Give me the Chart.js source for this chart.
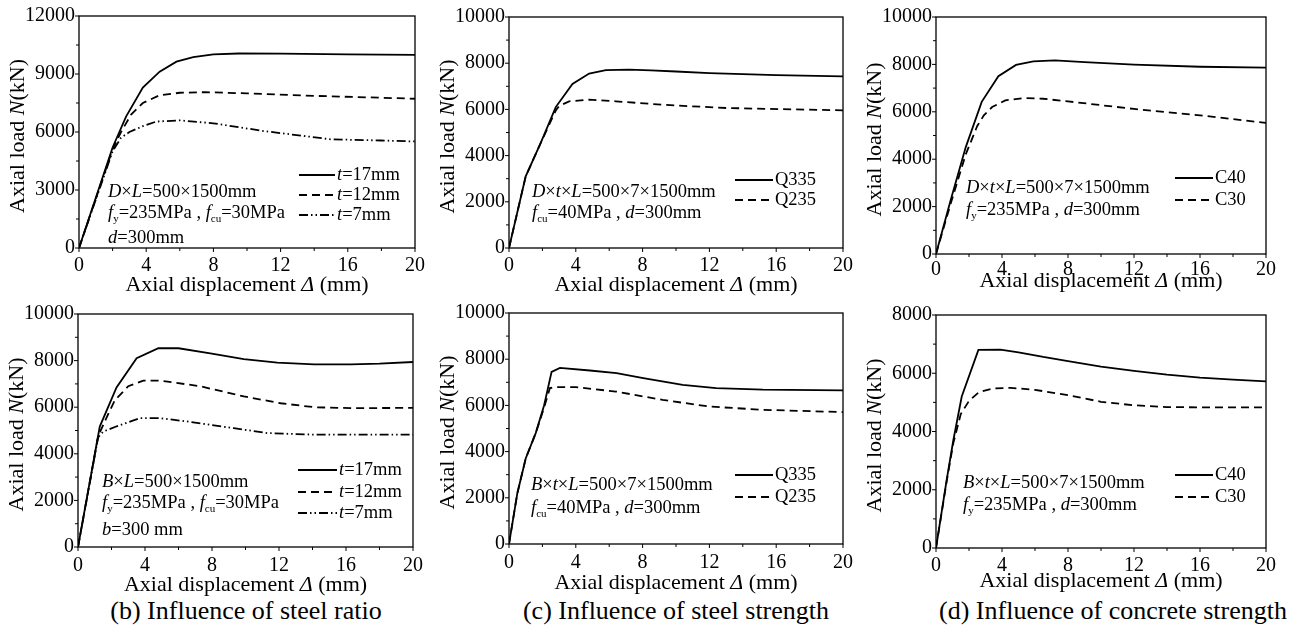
<!DOCTYPE html>
<html>
<head>
<meta charset="utf-8">
<script src="https://cdn.jsdelivr.net/npm/chart.js@4/dist/chart.umd.min.js"></script>
<style>
  body { margin: 0; background: #fff; width: 1294px; height: 630px; position: relative; overflow: hidden; }
  canvas { position: absolute; }
  .cap { position: absolute; font-family: "Liberation Serif", "Times New Roman", serif; font-size: 26px; color: #000; white-space: nowrap; transform: translate(-50%, -50%); }
</style>
</head>
<body>
<div class="cap" style="left:246px; top:611px;">(b) Influence of steel ratio</div>
<div class="cap" style="left:676px; top:611px;">(c) Influence of steel strength</div>
<div class="cap" style="left:1113px; top:611px;">(d) Influence of concrete strength</div>
<script>
// tick labels
const xTicks = [0, 4, 8, 12, 16, 20];
const yTicks12k = [0, 3000, 6000, 9000, 12000];
const yTicks10k = [0, 2000, 4000, 6000, 8000, 10000];
const yTicks8k = [0, 2000, 4000, 6000, 8000];

// top left: circular section, steel thickness
const topThickLabels = ['t=17mm', 't=12mm', 't=7mm'];
const topT17x = [0, 1, 2, 2.8, 3.8, 4.8, 5.8, 6.8, 8, 9.5, 12, 16, 20];
const topT17y = [0, 2600, 5200, 6800, 8300, 9120, 9640, 9870, 10010, 10060, 10050, 10020, 9990];
const topT12x = [0, 1, 2, 2.5, 3.1, 3.8, 4.8, 6, 7.5, 10, 14, 20];
const topT12y = [0, 2550, 5100, 6000, 6900, 7500, 7900, 8030, 8060, 8000, 7870, 7720];
const topT7x = [0, 1, 2, 2.5, 3, 3.8, 4.6, 6, 8, 11, 15, 18, 20];
const topT7y = [0, 2500, 5000, 5700, 6000, 6300, 6540, 6600, 6450, 6050, 5620, 5560, 5510];

// top middle: steel grade
const gradeLabels = ['Q335', 'Q235'];
const topQ335x = [0, 1, 1.9, 2.8, 3.8, 4.8, 5.8, 7.2, 8.5, 10, 12, 16, 20];
const topQ335y = [0, 3100, 4550, 6100, 7100, 7550, 7700, 7720, 7690, 7640, 7570, 7480, 7430];
const topQ235x = [0, 1, 1.9, 2.8, 3.0, 3.6, 4.8, 6.4, 9.2, 13, 20];
const topQ235y = [0, 3100, 4550, 5950, 6150, 6350, 6420, 6350, 6200, 6060, 5960];

// top right: concrete grade
const concLabels = ['C40', 'C30'];
const topC40x = [0, 0.9, 1.8, 2.77, 3.78, 4.85, 5.9, 7.2, 9, 12, 16, 20];
const topC40y = [0, 2300, 4500, 6420, 7500, 7980, 8130, 8170, 8100, 7990, 7900, 7860];
const topC30x = [0, 0.9, 1.8, 2.5, 2.9, 3.4, 4.2, 5.3, 6.5, 8, 12, 16, 20];
const topC30y = [0, 2150, 4200, 5400, 5850, 6200, 6480, 6580, 6550, 6440, 6120, 5850, 5530];

// bottom left: square section, steel thickness
const botT17x = [0, 1.3, 2.3, 3.5, 4.8, 6, 7.9, 9.9, 11.9, 14.1, 16.3, 18, 20];
const botT17y = [0, 5170, 6850, 8100, 8530, 8530, 8310, 8060, 7910, 7840, 7840, 7870, 7940];
const botT12x = [0, 1.2, 1.8, 2.2, 3, 3.9, 4.9, 7.3, 9.9, 12.1, 14.1, 16.3, 20];
const botT12y = [0, 4750, 5700, 6300, 6900, 7140, 7140, 6900, 6460, 6170, 6000, 5960, 5970];
const botT7x = [0, 1.2, 1.5, 2.2, 3.7, 4.9, 6.5, 9.3, 11.3, 14.1, 20];
const botT7y = [0, 4700, 4950, 5150, 5530, 5530, 5390, 5100, 4890, 4820, 4820];

// bottom middle: steel grade
const botQ335x = [0, 0.5, 1, 1.6, 2.1, 2.55, 3.05, 4.84, 6.44, 8.04, 10.4, 12.4, 15.2, 20];
const botQ335y = [0, 2200, 3700, 4800, 6000, 7450, 7620, 7510, 7400, 7180, 6890, 6750, 6680, 6650];
const botQ235x = [0, 0.5, 1, 1.6, 2.1, 2.45, 2.85, 4, 6.4, 9.2, 12, 15.2, 20];
const botQ235y = [0, 2200, 3700, 4800, 5900, 6750, 6790, 6790, 6600, 6240, 5950, 5810, 5710];

// bottom right: concrete grade
const botC40x = [0, 0.65, 1.05, 1.56, 2.57, 3.9, 5, 6.5, 8, 10, 12, 14, 16, 18, 20];
const botC40y = [0, 2350, 3700, 5200, 6800, 6810, 6720, 6560, 6420, 6230, 6080, 5950, 5850, 5780, 5720];
const botC30x = [0, 0.65, 1.05, 1.5, 2.0, 2.6, 3.5, 4.5, 6, 8, 10, 12, 14, 16, 20];
const botC30y = [0, 2300, 3600, 4600, 5050, 5350, 5480, 5500, 5430, 5250, 5020, 4900, 4840, 4830, 4830];

const FONT = '"Liberation Serif", "Times New Roman", serif';
const SOLID = [];
const DASH = [8, 5];
const DASHDOT = [9, 3, 1.5, 3, 1.5, 3];

function fontFor(style, size) {
    if (style === 'i') return 'italic ' + size + 'px ' + FONT;
    if (style === 's') return Math.round(size * 0.62) + 'px ' + FONT;
    return size + 'px ' + FONT;
}

// segs: [[text, style], ...]  style '' normal, 'i' italic, 's' subscript
function drawRich(ctx, segs, x, y, size, align) {
    let w = 0;
    segs.forEach(s => { ctx.font = fontFor(s[1], size); w += ctx.measureText(s[0]).width; });
    let cx = align === 'center' ? x - w / 2 : x;
    ctx.textAlign = 'left';
    ctx.textBaseline = 'middle';
    segs.forEach(s => {
        ctx.font = fontFor(s[1], size);
        ctx.fillText(s[0], cx, s[1] === 's' ? y + size * 0.32 : y);
        cx += ctx.measureText(s[0]).width;
    });
}

function legendSegs(label) {
    if (label.startsWith('t=')) return [['t', 'i'], [label.slice(1), '']];
    return [[label, '']];
}

function series(xs, ys, label, dash) {
    return {
        label: label,
        data: xs.map((x, i) => ({ x: x, y: ys[i] })),
        borderColor: '#000',
        borderWidth: 1.8,
        borderDash: dash,
        pointRadius: 0,
        tension: 0,
        fill: false
    };
}

const framePlugin = {
    id: 'frame',
    afterDraw(chart) {
        const o = chart.options.plugins.frame;
        const ctx = chart.ctx;
        const a = chart.chartArea;
        const xs = chart.scales.x, ys = chart.scales.y;
        ctx.save();
        ctx.strokeStyle = '#000';
        ctx.fillStyle = '#000';
        ctx.lineWidth = 1.3;
        ctx.setLineDash([]);
        ctx.strokeRect(a.left, a.top, a.right - a.left, a.bottom - a.top);

        // x ticks
        ctx.lineWidth = 1;
        for (let v = 0; v <= 20; v += 2) {
            const px = xs.getPixelForValue(v);
            const len = v % 4 === 0 ? 4 : 3;
            ctx.beginPath(); ctx.moveTo(px, a.bottom); ctx.lineTo(px, a.bottom + len); ctx.stroke();
        }
        // y ticks
        const yt = o.yTicks;
        for (let i = 0; i < yt.length; i++) {
            let py = ys.getPixelForValue(yt[i]);
            ctx.beginPath(); ctx.moveTo(a.left, py); ctx.lineTo(a.left - 4, py); ctx.stroke();
            if (i < yt.length - 1) {
                py = ys.getPixelForValue((yt[i] + yt[i + 1]) / 2);
                ctx.beginPath(); ctx.moveTo(a.left, py); ctx.lineTo(a.left - 3, py); ctx.stroke();
            }
        }
        // tick labels
        ctx.font = '20px ' + FONT;
        ctx.textBaseline = 'middle';
        ctx.textAlign = 'center';
        xTicks.forEach(v => ctx.fillText(String(v), xs.getPixelForValue(v), a.bottom + o.xLabelDy));
        ctx.textAlign = 'right';
        yt.forEach(v => ctx.fillText(String(v), a.left - 4, ys.getPixelForValue(v)));

        // axis titles
        drawRich(ctx, [['Axial displacement ', ''], ['\u0394', 'i'], [' (mm)', '']],
            (a.left + a.right) / 2, a.bottom + o.xTitleDy, 22, 'center');
        ctx.save();
        ctx.translate(a.left - 61, (a.top + a.bottom) / 2 + 4);
        ctx.rotate(-Math.PI / 2);
        drawRich(ctx, [['Axial load ', ''], ['N', 'i'], ['(kN)', '']], 0, 0, 22, 'center');
        ctx.restore();

        // parameter notes
        o.notes.forEach((segs, i) => drawRich(ctx, segs, a.left + o.noteDx, a.bottom + o.noteDy[i], 18.5, 'left'));

        // legend
        chart.data.datasets.forEach((ds, i) => {
            const ly = a.bottom + o.legDy[i];
            ctx.lineWidth = ds.borderWidth;
            ctx.setLineDash(ds.borderDash);
            ctx.beginPath();
            ctx.moveTo(a.left + o.legX0, ly);
            ctx.lineTo(a.left + o.legX1, ly);
            ctx.stroke();
            ctx.setLineDash([]);
            drawRich(ctx, legendSegs(ds.label), a.left + o.legX1 + 2, ly, 18.5, 'left');
        });
        ctx.restore();
    }
};

const fy = [['f', 'i'], ['y', 's']];
const fcu = [['f', 'i'], ['cu', 's']];

const panels = [
    { l: 79, t: 16, r: 415, b: 248, yMax: 12000, yStep: 1500, yTicks: yTicks12k,
      sets: [series(topT17x, topT17y, topThickLabels[0], SOLID), series(topT12x, topT12y, topThickLabels[1], DASH), series(topT7x, topT7y, topThickLabels[2], DASHDOT)],
      notes: [[['D', 'i'], ['\u00d7', ''], ['L', 'i'], ['=500\u00d71500mm', '']],
              [...fy, ['=235MPa , ', ''], ...fcu, ['=30MPa', '']],
              [['d', 'i'], ['=300mm', '']]],
      noteDx: 29, noteDy: [-56, -35, -10], legX0: 220, legX1: 256, legDy: [-73, -53, -33], xLabelDy: 18, xTitleDy: 37 },
    { l: 509, t: 17, r: 843, b: 248, yMax: 10000, yStep: 1000, yTicks: yTicks10k,
      sets: [series(topQ335x, topQ335y, gradeLabels[0], SOLID), series(topQ235x, topQ235y, gradeLabels[1], DASH)],
      notes: [[['D', 'i'], ['\u00d7', ''], ['t', 'i'], ['\u00d7', ''], ['L', 'i'], ['=500\u00d77\u00d71500mm', '']],
              [...fcu, ['=40MPa , ', ''], ['d', 'i'], ['=300mm', '']]],
      noteDx: 23, noteDy: [-56, -35], legX0: 226, legX1: 264, legDy: [-68, -48], xLabelDy: 18, xTitleDy: 37 },
    { l: 936, t: 17, r: 1266, b: 254, yMax: 10000, yStep: 1000, yTicks: yTicks10k,
      sets: [series(topC40x, topC40y, concLabels[0], SOLID), series(topC30x, topC30y, concLabels[1], DASH)],
      notes: [[['D', 'i'], ['\u00d7', ''], ['t', 'i'], ['\u00d7', ''], ['L', 'i'], ['=500\u00d77\u00d71500mm', '']],
              [...fy, ['=235MPa , ', ''], ['d', 'i'], ['=300mm', '']]],
      noteDx: 30, noteDy: [-66, -44], legX0: 239, legX1: 277, legDy: [-76, -54], xLabelDy: 16, xTitleDy: 27 },
    { l: 78, t: 314, r: 413, b: 547, yMax: 10000, yStep: 1000, yTicks: yTicks10k,
      sets: [series(botT17x, botT17y, topThickLabels[0], SOLID), series(botT12x, botT12y, topThickLabels[1], DASH), series(botT7x, botT7y, topThickLabels[2], DASHDOT)],
      notes: [[['B', 'i'], ['\u00d7', ''], ['L', 'i'], ['=500\u00d71500mm', '']],
              [...fy, ['=235MPa , ', ''], ...fcu, ['=30MPa', '']],
              [['b', 'i'], ['=300 mm', '']]],
      noteDx: 24, noteDy: [-65, -44, -17], legX0: 220, legX1: 259, legDy: [-77, -55, -34], xLabelDy: 19, xTitleDy: 38 },
    { l: 509, t: 313, r: 843, b: 544, yMax: 10000, yStep: 1000, yTicks: yTicks10k,
      sets: [series(botQ335x, botQ335y, gradeLabels[0], SOLID), series(botQ235x, botQ235y, gradeLabels[1], DASH)],
      notes: [[['B', 'i'], ['\u00d7', ''], ['t', 'i'], ['\u00d7', ''], ['L', 'i'], ['=500\u00d77\u00d71500mm', '']],
              [...fcu, ['=40MPa , ', ''], ['d', 'i'], ['=300mm', '']]],
      noteDx: 22, noteDy: [-59, -36], legX0: 226, legX1: 264, legDy: [-69, -47], xLabelDy: 19, xTitleDy: 39 },
    { l: 936, t: 315, r: 1266, b: 548, yMax: 8000, yStep: 1000, yTicks: yTicks8k,
      sets: [series(botC40x, botC40y, concLabels[0], SOLID), series(botC30x, botC30y, concLabels[1], DASH)],
      notes: [[['B', 'i'], ['\u00d7', ''], ['t', 'i'], ['\u00d7', ''], ['L', 'i'], ['=500\u00d77\u00d71500mm', '']],
              [...fy, ['=235MPa , ', ''], ['d', 'i'], ['=300mm', '']]],
      noteDx: 27, noteDy: [-65, -43], legX0: 239, legX1: 277, legDy: [-73, -51], xLabelDy: 18, xTitleDy: 33 }
];

function main() {
    panels.forEach(p => {
        const cv = document.createElement('canvas');
        const w = p.r - p.l + 110;
        const h = p.b - p.t + 70;
        cv.width = w; cv.height = h;
        cv.style.left = (p.l - 80) + 'px';
        cv.style.top = (p.t - 10) + 'px';
        cv.style.width = w + 'px';
        cv.style.height = h + 'px';
        document.body.appendChild(cv);

        new Chart(cv, {
            type: 'line',
            data: { datasets: p.sets },
            plugins: [framePlugin],
            options: {
                responsive: false,
                animation: false,
                devicePixelRatio: 1,
                layout: { padding: { left: 0, top: 10, right: 30, bottom: 0 } },
                plugins: {
                    legend: { display: false },
                    tooltip: { enabled: false },
                    frame: p
                },
                scales: {
                    x: {
                        type: 'linear', min: 0, max: 20,
                        ticks: { display: false, stepSize: 2 },
                        grid: { display: false },
                        border: { display: false },
                        afterFit: s => { s.height = 60; }
                    },
                    y: {
                        type: 'linear', min: 0, max: p.yMax,
                        ticks: { display: false, stepSize: p.yStep },
                        grid: { display: false },
                        border: { display: false },
                        afterFit: s => { s.width = 80; }
                    }
                }
            }
        });
    });
}

// canvas text needs the serif faces ready before drawing
Promise.all([
    document.fonts.load('20px "Liberation Serif"'),
    document.fonts.load('italic 20px "Liberation Serif"')
]).catch(() => {}).then(() => document.fonts.ready).then(main);
</script>
</body>
</html>
